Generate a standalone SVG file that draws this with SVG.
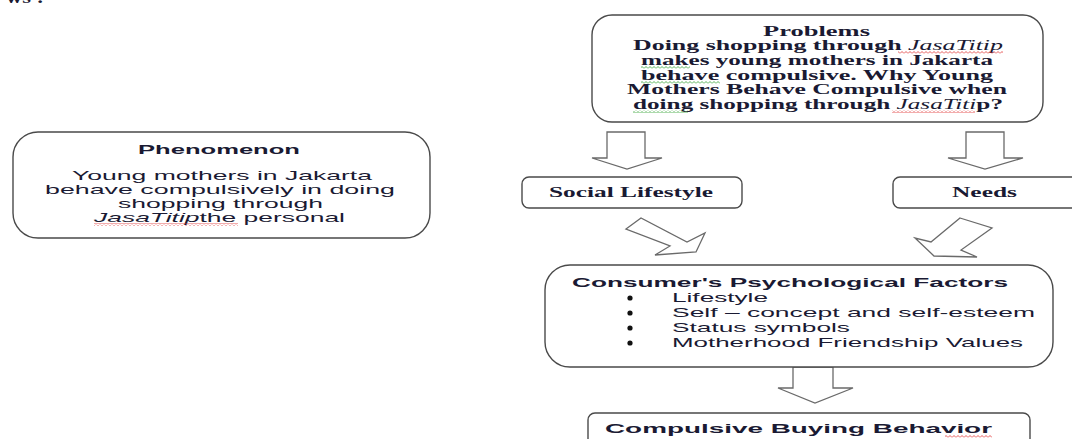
<svg xmlns="http://www.w3.org/2000/svg" width="1072" height="439" viewBox="0 0 1072 439">
<style>
.box{fill:#fff;stroke:#4a4a4a;stroke-width:1.4}
.arr{fill:#fff;stroke:#6a6a6a;stroke-width:1.3;stroke-linejoin:miter}
.serif{font-family:"Liberation Serif","Times New Roman",serif;fill:#1a1a33}
.sans{font-family:"Liberation Sans",Arial,sans-serif;fill:#1a1a33}
.b{font-weight:bold}
.i{font-style:italic;font-weight:normal}
.red{fill:url(#wavR)}
.grn{fill:url(#wavG)}
.dot{fill:#111}
</style>
<defs>
<pattern id="wavR" patternUnits="userSpaceOnUse" width="4" height="3">
<path d="M0,2.5 L2,0.5 L4,2.5" fill="none" stroke="#e03030" stroke-width="0.8"/>
</pattern>
<pattern id="wavG" patternUnits="userSpaceOnUse" width="4" height="3">
<path d="M0,2.5 L2,0.5 L4,2.5" fill="none" stroke="#30a030" stroke-width="0.8"/>
</pattern>
</defs>
<rect width="1072" height="439" fill="#fff"/>
<text class="serif b" x="6" y="3" font-size="16" textLength="38" lengthAdjust="spacingAndGlyphs">ws :</text>

<g id="connectors">
<path class="arr" d="M607,132 H645 V158 H662 L627,169 L592,158 H607 Z"/>
<path class="arr" d="M966,132 H1004 V158 H1023 L985,169 L948,158 H966 Z"/>
<path class="arr" d="M626,229 L641,218 L687,242 L705,233 L696,252 L655,255 L670,246 Z"/>
<path class="arr" d="M960,218 L992,228 L961,250 L977,257 L934,256 L915,238 L931,242 Z"/>
<path class="arr" d="M793,367 H833 V388 H853 L815,403 L778,388 H793 Z"/>
</g>

<g id="problems">
<rect class="box" x="592" y="15" width="451" height="107" rx="20"/>
<text class="serif b" x="763" y="36" font-size="15" textLength="107" lengthAdjust="spacingAndGlyphs">Problems</text>
<text class="serif b" x="633" y="50" font-size="15" textLength="370" lengthAdjust="spacingAndGlyphs">Doing shopping through <tspan class="i">JasaTitip</tspan></text>
<text class="serif b" x="641" y="65" font-size="15" textLength="352" lengthAdjust="spacingAndGlyphs">makes young mothers in Jakarta</text>
<text class="serif b" x="641" y="80" font-size="15" textLength="352" lengthAdjust="spacingAndGlyphs">behave compulsive. Why Young</text>
<text class="serif b" x="627" y="94" font-size="15" textLength="380" lengthAdjust="spacingAndGlyphs">Mothers Behave Compulsive when</text>
<text class="serif b" x="633" y="109" font-size="15" textLength="370" lengthAdjust="spacingAndGlyphs">doing shopping through <tspan class="i">JasaTiti</tspan>p?</text>
<rect class="red" x="898" y="51" width="105" height="3"/>
<rect class="grn" x="641" y="66" width="49" height="3"/>
<rect class="grn" x="641" y="81" width="79" height="3"/>
<rect class="grn" x="633" y="110" width="55" height="3"/>
<rect class="red" x="892" y="110" width="83" height="3"/>
</g>

<g id="phenomenon">
<rect class="box" x="13" y="132" width="417" height="106" rx="25"/>
<text class="sans b" x="138" y="154" font-size="13.5" textLength="162" lengthAdjust="spacingAndGlyphs">Phenomenon</text>
<text class="sans" x="72" y="180" font-size="13.5" textLength="300" lengthAdjust="spacingAndGlyphs">Young mothers in Jakarta</text>
<text class="sans" x="45" y="194" font-size="13.5" textLength="350" lengthAdjust="spacingAndGlyphs">behave compulsively in doing</text>
<text class="sans" x="118" y="208" font-size="13.5" textLength="205" lengthAdjust="spacingAndGlyphs">shopping through</text>
<text class="sans" x="94" y="222" font-size="13.5" textLength="251" lengthAdjust="spacingAndGlyphs"><tspan class="i">JasaTitip</tspan>the personal</text>
<rect class="red" x="94" y="223" width="144" height="3"/>
</g>

<g id="social-lifestyle">
<rect class="box" x="522" y="177" width="220" height="31" rx="7"/>
<text class="serif b" x="549" y="197" font-size="14.5" textLength="164" lengthAdjust="spacingAndGlyphs">Social Lifestyle</text>
</g>

<g id="needs">
<rect class="box" x="893" y="177" width="200" height="31" rx="7"/>
<text class="serif b" x="952" y="197" font-size="14.5" textLength="65" lengthAdjust="spacingAndGlyphs">Needs</text>
</g>

<g id="consumer-factors">
<rect class="box" x="545" y="265" width="508" height="102" rx="25"/>
<text class="sans b" x="572" y="287" font-size="13.5" textLength="436" lengthAdjust="spacingAndGlyphs">Consumer's Psychological  Factors</text>
<circle class="dot" cx="630" cy="298" r="2.6"/>
<circle class="dot" cx="630" cy="313" r="2.6"/>
<circle class="dot" cx="630" cy="328" r="2.6"/>
<circle class="dot" cx="630" cy="343" r="2.6"/>
<text class="sans" x="672" y="302" font-size="13.5" textLength="96" lengthAdjust="spacingAndGlyphs">Lifestyle</text>
<text class="sans" x="672" y="317" font-size="13.5" textLength="363" lengthAdjust="spacingAndGlyphs">Self – concept  and self-esteem</text>
<text class="sans" x="672" y="332" font-size="13.5" textLength="178" lengthAdjust="spacingAndGlyphs">Status symbols</text>
<text class="sans" x="672" y="347" font-size="13.5" textLength="351" lengthAdjust="spacingAndGlyphs">Motherhood Friendship Values</text>
</g>

<g id="compulsive-buying">
<rect class="box" x="588" y="413" width="442" height="40" rx="7"/>
<text class="sans b" x="605" y="433" font-size="13.5" textLength="387" lengthAdjust="spacingAndGlyphs">Compulsive Buying  Behavior</text>
<rect class="red" x="945" y="435" width="47" height="3"/>
</g>
</svg>
